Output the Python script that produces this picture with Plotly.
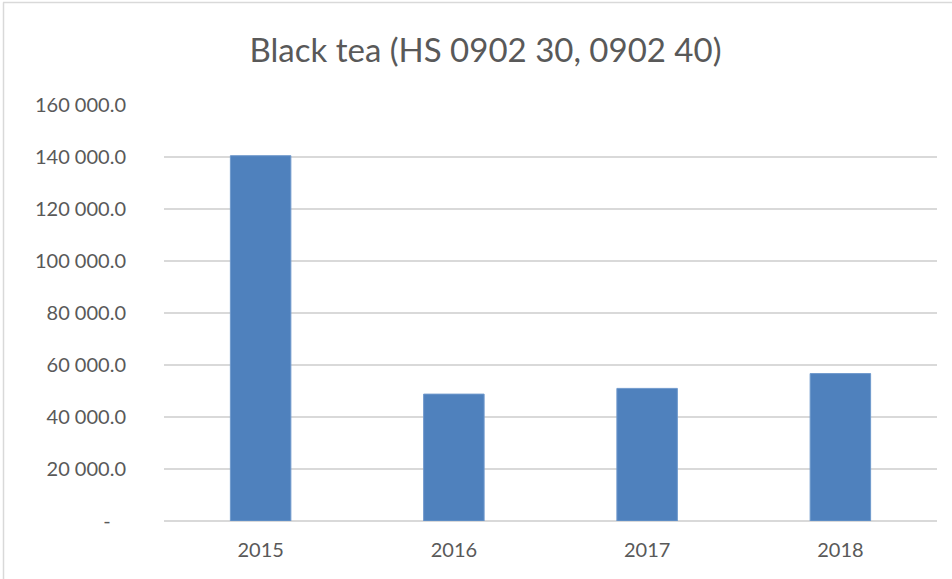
import plotly.graph_objects as go

years = ["2015", "2016", "2017", "2018"]
values = [140500, 48800, 51000, 56700]
tick_vals = [0, 20000, 40000, 60000, 80000, 100000, 120000, 140000, 160000]


def fmt(v):
    if v == 0:
        return "-\u00a0\u00a0\u00a0"
    return f"{v:,.1f}".replace(",", " ")


tick_text = [fmt(v) for v in tick_vals]

fig = go.Figure(
    go.Bar(
        x=years,
        y=values,
        marker=dict(color="#4f81bd", line=dict(color="#6f99cc", width=1)),
    )
)

fig.update_layout(
    width=952,
    height=579,
    paper_bgcolor="white",
    plot_bgcolor="white",
    margin=dict(l=164, r=15, t=105, b=58),
    bargap=0.687,
    showlegend=False,
    font=dict(family="Lato, 'Open Sans', sans-serif", color="#595959"),
    title=dict(
        text="Black tea (HS 0902 30, 0902 40)",
        x=0.51,
        xanchor="center",
        y=1 - 50 / 579,
        yanchor="middle",
        font=dict(size=33, color="#595959", family="Lato, 'Open Sans', sans-serif"),
    ),
)

# Outer chart border (top and left edges visible in reference)
fig.add_shape(
    type="line", xref="paper", yref="paper",
    x0=(3 - 164) / 773, x1=(960 - 164) / 773,
    y0=(521 - 2.5) / 416, y1=(521 - 2.5) / 416,
    line=dict(color="#d9d9d9", width=1.5),
)
fig.add_shape(
    type="line", xref="paper", yref="paper",
    x0=(3.5 - 164) / 773, x1=(3.5 - 164) / 773,
    y0=(521 - 2.5) / 416, y1=(521 - 590) / 416,
    line=dict(color="#d9d9d9", width=1.5),
)

fig.update_xaxes(
    type="category",
    showgrid=False,
    showline=False,
    ticks="",
    tickfont=dict(size=20, color="#595959"),
    ticklabelstandoff=15,
)
fig.update_yaxes(
    range=[0, 160000],
    tickvals=tick_vals,
    ticktext=tick_text,
    showgrid=True,
    gridcolor="#d9d9d9",
    gridwidth=1.5,
    zeroline=True,
    zerolinecolor="#d9d9d9",
    zerolinewidth=1.5,
    showline=False,
    ticks="",
    tickfont=dict(size=20, color="#595959"),
    ticklabelstandoff=37,
)

fig.write_html("out.html")
